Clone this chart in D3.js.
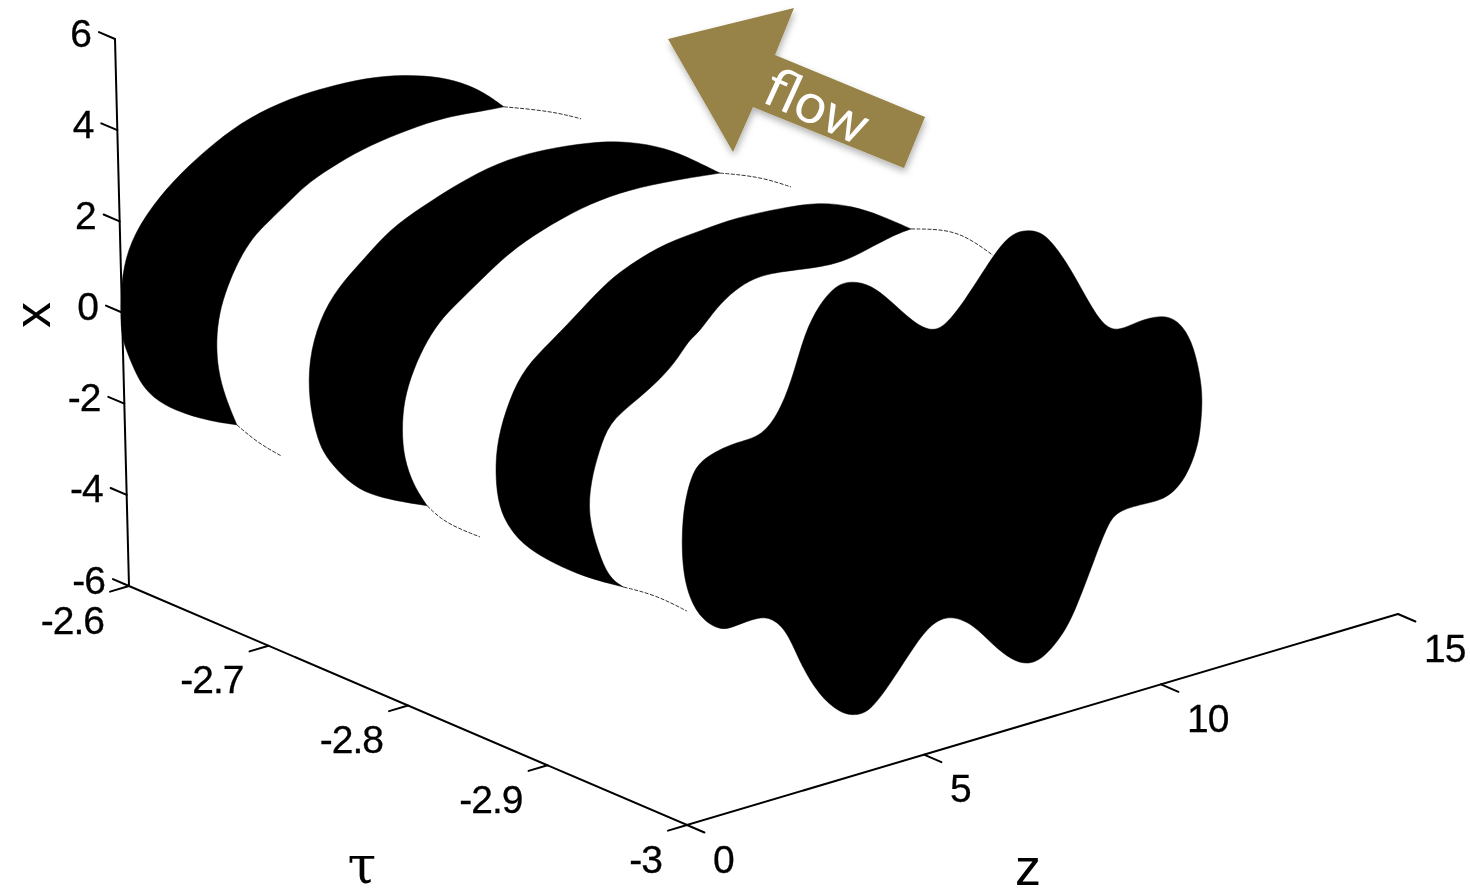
<!DOCTYPE html>
<html lang="en">
  <head>
    <meta charset="utf-8">
    <title>Flow tube</title>
    <script src="https://d3js.org/d3.v7.min.js"></script>
    <style type="text/css">
      html, body { margin: 0; background: #FFFFFF; }
      svg { display: block; }
      .axis-line, .tick-line { fill: none; stroke: #000000; stroke-width: 2; stroke-linecap: round; }
      .band { fill: #000000; stroke: #000000; stroke-width: 0.5; }
      .trail { fill: none; stroke: #333333; stroke-width: 1; stroke-dasharray: 4 1.5; }
      .tick-label { font-family: 'Liberation Sans', sans-serif; font-size: 39px; letter-spacing: -1px; fill: #000000; stroke: #000000; stroke-width: 0.3; }
      .axis-title { font-family: 'Liberation Sans', sans-serif; font-size: 52px; fill: #000000; }
    </style>
  </head>
  <body>
  <script type="text/javascript">
    // Tick values
    var TAU_TICKS = [-2.6, -2.7, -2.8, -2.9, -3],
        Z_TICKS = [0, 5, 10, 15],
        X_TICKS = [6, 4, 2, 0, -2, -4, -6];

    // Stripes as [z, x], seen on the front plane tau = -3
    var FRONT_TAU = -3;

    var bandOneOuter = [[-9.21,5.62],[-9.75,5.87],[-10.24,6.16],[-10.73,6.52],[-11.12,6.97],[-11.33,7.48],[-11.49,7.97],[-11.59,8.37],[-11.58,9.09],[-11.51,9.79],[-11.26,10.46],[-10.72,11.09],[-10.11,11.56],[-9.50,11.92],[-8.81,12.23],[-7.90,12.39],[-7.12,12.39],[-6.32,12.34],[-5.54,12.17],[-4.75,11.88],[-4.17,11.52],[-3.78,11.18],[-3.45,10.82]];
    var bandOneInner = [[-3.45,10.82],[-3.78,10.85],[-4.69,10.98],[-5.47,10.94],[-6.27,10.85],[-6.95,10.67],[-7.57,10.44],[-7.96,10.17],[-8.47,9.82],[-8.77,9.61],[-9.08,9.20],[-9.34,8.69],[-9.52,8.17],[-9.60,7.60],[-9.58,6.94],[-9.44,6.30],[-9.21,5.62]];

    var bandTwoOuter = [[-5.27,2.63],[-6.25,3.10],[-6.75,3.48],[-7.12,3.96],[-7.42,4.45],[-7.56,4.93],[-7.69,5.70],[-7.67,6.57],[-7.43,7.37],[-7.02,7.97],[-6.42,8.44],[-5.92,8.88],[-5.22,9.17],[-4.43,9.45],[-3.62,9.64],[-2.74,9.65],[-1.64,9.49],[-0.87,9.27],[-0.08,8.88],[0.50,8.43],[1.04,7.98]];
    var bandTwoInner = [[1.04,7.98],[0.09,8.12],[-0.89,8.21],[-1.68,8.16],[-2.48,7.97],[-3.27,7.69],[-3.87,7.31],[-4.39,6.94],[-4.84,6.64],[-5.18,6.24],[-5.49,5.68],[-5.70,5.08],[-5.76,4.44],[-5.73,3.82],[-5.55,3.17],[-5.27,2.63]];

    var bandThreeOuter = [[-1.20,-0.41],[-2.17,0.15],[-3.14,0.98],[-3.53,1.54],[-3.77,2.12],[-3.83,2.86],[-3.77,3.61],[-3.50,4.40],[-3.15,5.02],[-2.55,5.43],[-1.94,5.90],[-1.34,6.37],[-0.83,6.59],[-0.13,6.81],[0.65,6.85],[1.33,6.91],[2.32,6.82],[3.10,6.71],[3.79,6.41],[4.37,6.03],[5.01,5.53]];
    var bandThreeInner = [[5.01,5.53],[4.65,5.51],[4.06,5.36],[3.57,5.25],[2.98,5.30],[2.18,5.46],[1.70,5.48],[1.29,5.34],[0.91,5.09],[0.51,4.64],[0.30,4.55],[0.00,4.14],[-0.41,3.82],[-0.90,3.54],[-1.42,3.26],[-1.64,2.71],[-1.83,2.11],[-1.91,1.39],[-1.72,0.54],[-1.50,-0.12],[-1.20,-0.41]];

    var frontCap = [[3.75,4.78],[4.14,4.57],[4.53,4.12],[5.00,3.49],[5.39,3.15],[5.69,3.21],[6.10,3.63],[6.49,4.13],[6.91,4.64],[7.21,4.79],[7.50,4.74],[7.79,4.58],[8.08,4.12],[8.38,3.52],[8.74,2.67],[9.02,2.14],[9.31,1.96],[9.71,2.06],[10.22,2.04],[10.55,1.82],[10.83,1.30],[10.98,0.53],[11.03,-0.08],[10.95,-0.78],[10.88,-1.09],[10.66,-1.63],[10.27,-1.99],[9.83,-1.97],[9.21,-1.93],[8.98,-2.14],[8.66,-2.88],[8.24,-3.85],[7.97,-4.29],[7.56,-4.67],[7.23,-4.72],[6.89,-4.51],[6.50,-4.06],[6.12,-3.50],[5.64,-3.13],[5.24,-3.18],[4.87,-3.55],[4.41,-4.14],[3.91,-4.71],[3.58,-4.71],[3.26,-4.55],[2.83,-4.02],[2.47,-3.25],[2.20,-2.42],[1.89,-2.04],[1.60,-1.93],[1.11,-1.98],[0.84,-2.00],[0.44,-1.66],[0.16,-1.07],[0.03,-0.31],[0.06,0.78],[0.27,1.60],[0.53,1.89],[1.21,2.03],[1.80,1.96],[2.21,2.49],[2.48,3.15],[2.73,3.95],[3.04,4.47],[3.41,4.80]];

    var trailLines = [
      [[-3.45,10.82],[-2.90,10.60],[-2.32,10.34],[-1.84,10.06]],
      [[1.04,7.98],[1.35,7.86],[1.94,7.60],[2.52,7.22]],
      [[5.01,5.53],[5.74,5.30],[6.22,4.96],[6.71,4.43]],
      [[-9.21,5.62],[-8.78,5.09],[-8.30,4.66]],
      [[-5.27,2.63],[-4.91,2.14],[-4.18,1.61]],
      [[-1.20,-0.41],[-0.53,-0.79],[0.11,-1.34]]
    ];

    var bands = [
      [bandOneOuter, bandOneInner],
      [bandTwoOuter, bandTwoInner],
      [bandThreeOuter, bandThreeInner]
    ];

    var width = 1470,
        height = 896;

    // Box corners on screen, each scale gives a 2d vector
    var tauScale = d3.scaleLinear().domain([-2.6, -3]).range([[129, 586], [687, 825]]),
        zScale = d3.scaleLinear().domain([0, 15]).range([[0, 0], [711, -211]]),
        xScale = d3.scaleLinear().domain([-6, 6]).range([[0, 0], [-14, -547]]);

    function project(tau, z, x) {
      var a = tauScale(tau), b = zScale(z), c = xScale(x);
      return [a[0] + b[0] + c[0], a[1] + b[1] + c[1]];
    }

    function front(d) {
      return project(FRONT_TAU, d[0], d[1]);
    }

    var smooth = d3.line().curve(d3.curveBasis);
    var smoothClosed = d3.line().curve(d3.curveBasisClosed);

    var svg = d3.select("body").append("svg")
        .attr("width", width)
        .attr("height", height);

    var defs = svg.append("defs");

    defs.append("filter")
        .attr("id", "soft")
      .append("feGaussianBlur")
        .attr("stdDeviation", 0.55);

    var shadow = defs.append("filter")
        .attr("id", "arrow-shadow")
        .attr("x", "-20%").attr("y", "-20%")
        .attr("width", "140%").attr("height", "140%");
    shadow.append("feDropShadow")
        .attr("dx", 1)
        .attr("dy", 4)
        .attr("stdDeviation", 3.5)
        .attr("flood-color", "#000000")
        .attr("flood-opacity", 0.3);

    var plot = svg.append("g").attr("filter", "url(#soft)");

    // stripes
    plot.selectAll(".trail")
        .data(trailLines)
      .enter().append("path")
        .attr("class", "trail")
        .attr("d", function(d) { return smooth(d.map(front)); });

    plot.selectAll(".band")
        .data(bands)
      .enter().append("path")
        .attr("class", "band")
        .attr("d", function(d) {
          return smooth(d[0].map(front)) + smooth(d[1].map(front)).replace("M", "L") + "Z";
        });

    plot.append("path")
        .datum(frontCap)
        .attr("class", "band")
        .attr("d", function(d) { return smoothClosed(d.map(front)); });

    // axis lines
    var axisPath = d3.line();
    plot.append("path").attr("class", "axis-line")
        .attr("d", axisPath([project(-2.6, 0, 6), project(-2.6, 0, -6), project(-3, 0, -6), project(-3, 15, -6)]));

    function addTicks(values, start, end, text) {
      plot.selectAll(null)
          .data(values)
        .enter().append("line")
          .attr("class", "tick-line")
          .attr("x1", function(d) { return start(d)[0]; })
          .attr("y1", function(d) { return start(d)[1]; })
          .attr("x2", function(d) { return end(d)[0]; })
          .attr("y2", function(d) { return end(d)[1]; });

      plot.selectAll(null)
          .data(values)
        .enter().append("text")
          .attr("class", "tick-label")
          .attr("x", function(d) { return start(d)[0] + text.dx; })
          .attr("y", function(d) { return start(d)[1] + text.dy; })
          .attr("dy", "0.35em")
          .attr("text-anchor", text.anchor)
          .text(function(d) { return d; });
    }

    addTicks(X_TICKS,
        function(d) { return project(-2.6, 0, d); },
        function(d) { return project(-2.5885, 0, d); },
        {dx: -24, dy: -6, anchor: "end"});

    addTicks(TAU_TICKS,
        function(d) { return project(d, 0, -6); },
        function(d) { return project(d, -0.4, -6); },
        {dx: -25, dy: 34, anchor: "end"});

    addTicks(Z_TICKS,
        function(d) { return project(-3, d, -6); },
        function(d) { return project(-3.0125, d, -6); },
        {dx: 26, dy: 34, anchor: "start"});

    // axis titles
    plot.append("text")
        .attr("class", "axis-title")
        .attr("transform", "translate(50,315) rotate(-90)")
        .attr("text-anchor", "middle")
        .text("x");

    plot.append("text")
        .attr("class", "axis-title")
        .attr("x", 1028)
        .attr("y", 885)
        .attr("text-anchor", "middle")
        .text("z");

    plot.append("text")
        .attr("class", "axis-title")
        .attr("x", 362)
        .attr("y", 883)
        .attr("text-anchor", "middle")
        .style("font-family", "'DejaVu Serif', serif")
        .text("τ");

    // flow arrow, slide annotation on top of the plot
    var ARROW_SHAPE = [[668, 39], [794, 8], [775, 55], [925, 117], [904, 168], [753, 107], [733, 152]];

    svg.append("path")
        .attr("d", d3.line()(ARROW_SHAPE) + "Z")
        .attr("fill", "#978246")
        .attr("filter", "url(#arrow-shadow)");

    svg.append("text")
        .attr("transform", "translate(760,101) rotate(24.5)")
        .attr("fill", "#FFFFFF")
        .style("font-family", "Lato, sans-serif")
        .style("font-size", "56px")
        .text("flow");
  </script>
  </body>
</html>
